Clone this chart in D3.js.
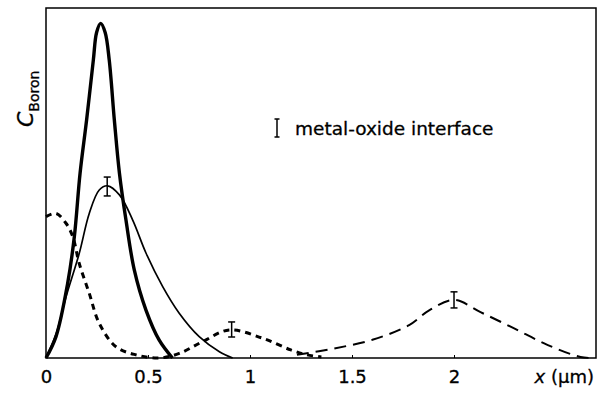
<!DOCTYPE html>
<html>
<head>
<meta charset="utf-8">
<script src="https://cdn.jsdelivr.net/npm/d3@7/dist/d3.min.js"></script>
<style>
  body { margin: 0; background: white; }
  text { font-family: "DejaVu Sans", sans-serif; fill: black; stroke: black; stroke-width: 0.3px; }
  path.curve { fill: none; stroke: black; stroke-linecap: butt; }
</style>
</head>
<body>
<script>

// curves, [x (um), C (arbitrary)]
var thickCurve = [[0,0],[0.049,0.061],[0.106,0.213],[0.139,0.347],[0.167,0.528],[0.199,0.68],
  [0.232,0.851],[0.248,0.93],[0.268,0.956],[0.29,0.93],[0.31,0.851],[0.335,0.68],[0.36,0.528],
  [0.392,0.394],[0.433,0.251],[0.49,0.137],[0.555,0.051],[0.62,0]];
var thinCurve = [[0,0],[0.05,0.07],[0.098,0.174],[0.163,0.299],[0.212,0.413],[0.261,0.48],
  [0.302,0.492],[0.36,0.466],[0.425,0.394],[0.49,0.3],[0.572,0.204],[0.653,0.128],[0.751,0.061],
  [0.85,0.018],[0.915,0]];
var dottedCurve = [[0,0.404],[0.049,0.413],[0.098,0.385],[0.131,0.347],[0.163,0.27],[0.212,0.185],
  [0.261,0.099],[0.343,0.032],[0.441,0.009],[0.555,0],[0.653,0.013],[0.768,0.047],[0.898,0.08],
  [1.06,0.057],[1.2,0.023],[1.28,0.009],[1.35,0.003]];
var dashedCurve = [[1.23,0.009],[1.41,0.027],[1.6,0.052],[1.78,0.094],[1.88,0.137],[2.0,0.166],
  [2.13,0.131],[2.29,0.086],[2.46,0.037],[2.62,0.003],[2.69,0]];

// metal-oxide interface marks: x, low, high
var interfaces = [[0.30,0.463,0.517],[0.91,0.06,0.103],[2.0,0.143,0.189]];

var xTicks = [0, 0.5, 1, 1.5, 2];
var xTickLabels = ["0", "0.5", "1", "1.5", "2"];

var width = 599, height = 394;
var mLeft = 46, mRight = 596, mTop = 8, mBottom = 358;

var x = d3.scaleLinear().domain([0, 2.696]).range([mLeft, mRight]);
var y = d3.scaleLinear().domain([0, 1]).range([mBottom, mTop]);

var svg = d3.select("body").append("svg")
    .attr("width", width)
    .attr("height", height);

var line = d3.line()
    .x(function(d){ return x(d[0]); })
    .y(function(d){ return y(d[1]); })
    .curve(d3.curveCatmullRom.alpha(0.5));

svg.append("path").attr("class", "curve").attr("d", line(thinCurve))
    .style("stroke-width", 1.7);
svg.append("path").attr("class", "curve").attr("d", line(thickCurve))
    .style("stroke-width", 3.4);
svg.append("path").attr("class", "curve").attr("d", line(dottedCurve))
    .style("stroke-width", 3).style("stroke-dasharray", "6,5");
svg.append("path").attr("class", "curve").attr("d", line(dashedCurve))
    .style("stroke-width", 2).style("stroke-dasharray", "12,7");

// frame
svg.append("rect")
    .attr("x", mLeft).attr("y", mTop)
    .attr("width", mRight - mLeft).attr("height", mBottom - mTop)
    .style("fill", "none").style("stroke", "black").style("stroke-width", 1.5);

// small inward ticks + labels
var xAxis = d3.axisBottom(x).tickValues(xTicks).tickSize(-3)
    .tickFormat(function(d, i){ return xTickLabels[i]; });
var gx = svg.append("g").attr("transform", "translate(0," + mBottom + ")").call(xAxis);
gx.select(".domain").remove();
gx.selectAll("text").attr("dy", null).attr("y", 25)
    .style("font-size", "18px").style("font-family", "DejaVu Sans, sans-serif");
gx.selectAll("line").style("stroke-width", 1);

var xl = svg.append("text").attr("x", 594).attr("y", 383)
    .attr("text-anchor", "end").style("font-size", "18px");
xl.append("tspan").style("font-style", "italic").text("x");
xl.append("tspan").text(" (µm)");

// y label
var yl = svg.append("text")
    .attr("transform", "translate(33,127) rotate(-90)")
    .attr("text-anchor", "start");
yl.append("tspan").style("font-size", "22px").style("font-style", "italic").text("C");
yl.append("tspan").attr("dy", 6).style("font-size", "14px").text("Boron");

// interface marks
function ibar(g, cx, y0, y1, w) {
  g.append("line").attr("x1", cx).attr("x2", cx).attr("y1", y0).attr("y2", y1);
  g.append("line").attr("x1", cx - w).attr("x2", cx + w).attr("y1", y0).attr("y2", y0);
  g.append("line").attr("x1", cx - w).attr("x2", cx + w).attr("y1", y1).attr("y2", y1);
}
var gb = svg.append("g").style("stroke", "black").style("stroke-width", 1.5);
interfaces.forEach(function(d){ ibar(gb, x(d[0]), y(d[2]), y(d[1]), 3.5); });

// legend
ibar(gb, 277, 119, 137, 2.5);
svg.append("text").attr("x", 295).attr("y", 135)
    .style("font-size", "18.5px").text("metal-oxide interface");

</script>
</body>
</html>
